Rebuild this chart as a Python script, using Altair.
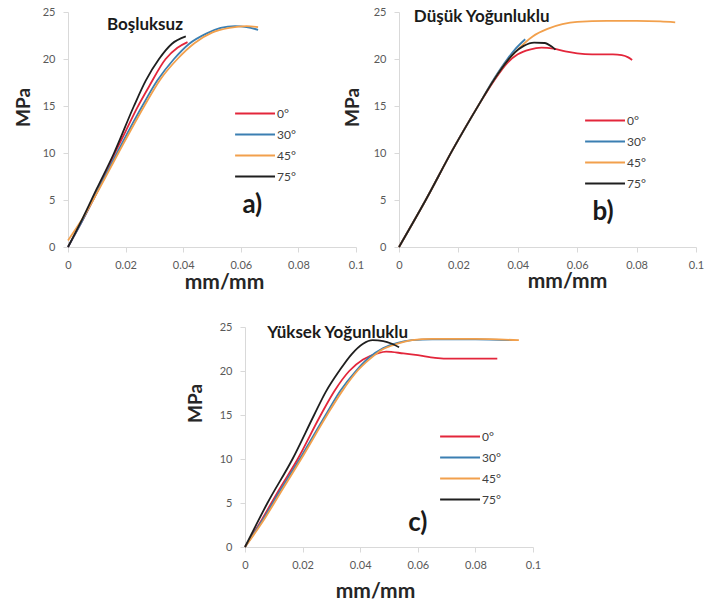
import altair as alt
import pandas as pd

ANGLES = ["0°", "30°", "45°", "75°"]
COLORS = ["#e3263b", "#3b7fb2", "#f2a04c", "#1f1f1f"]
X_TICKS = [0, 0.02, 0.04, 0.06, 0.08, 0.1]
Y_TICKS = [0, 5, 10, 15, 20, 25]

# ---------- Panel a) Boşluksuz ----------
a0_x = [0, 0.005, 0.01, 0.016, 0.020, 0.024, 0.028, 0.0339, 0.038, 0.0415]
a0_y = [0, 2.8, 5.8, 9.8, 12.3, 14.8, 17.0, 20.0, 21.2, 21.8]
a30_x = [0, 0.005, 0.01, 0.017, 0.0258, 0.031, 0.0368, 0.042, 0.048, 0.053, 0.058, 0.062, 0.066]
a30_y = [0, 2.8, 5.8, 10.0, 15.0, 17.7, 20.0, 21.6, 22.7, 23.3, 23.5, 23.4, 23.1]
a45_x = [0, 0.005, 0.01, 0.0175, 0.0265, 0.032, 0.038, 0.044, 0.050, 0.056, 0.062, 0.066]
a45_y = [0.7, 3.0, 5.7, 10.0, 15.0, 17.8, 20.0, 21.7, 22.8, 23.3, 23.5, 23.4]
a75_x = [0, 0.005, 0.01, 0.016, 0.0229, 0.027, 0.0316, 0.036, 0.0409]
a75_y = [0, 3.0, 6.2, 10.0, 15.0, 17.7, 20.0, 21.6, 22.4]

# ---------- Panel b) Düşük Yoğunluklu ----------
b0_x = [0, 0.009, 0.018, 0.027, 0.032, 0.0365, 0.040, 0.044, 0.048, 0.052, 0.056, 0.060, 0.065, 0.072, 0.075, 0.077, 0.0785]
b0_y = [0, 5.0, 10.3, 15.2, 17.7, 19.6, 20.5, 21.0, 21.2, 21.1, 20.8, 20.6, 20.5, 20.5, 20.4, 20.2, 19.9]
b30_x = [0, 0.009, 0.018, 0.027, 0.032, 0.0365, 0.039, 0.0425]
b30_y = [0, 5.0, 10.3, 15.2, 17.9, 20.0, 21.0, 22.1]
b45_x = [0, 0.009, 0.018, 0.027, 0.032, 0.0365, 0.040, 0.045, 0.050, 0.055, 0.060, 0.070, 0.080, 0.088, 0.093]
b45_y = [0, 5.0, 10.3, 15.2, 17.8, 19.8, 21.0, 22.4, 23.2, 23.7, 23.95, 24.05, 24.05, 24.0, 23.9]
b75_x = [0, 0.009, 0.018, 0.027, 0.032, 0.0365, 0.039, 0.042, 0.0455, 0.049, 0.0515, 0.0527]
b75_y = [0, 5.0, 10.3, 15.2, 17.8, 19.8, 20.7, 21.4, 21.75, 21.7, 21.3, 21.0]

# ---------- Panel c) Yüksek Yoğunluklu ----------
c0_x = [0, 0.006, 0.012, 0.0183, 0.0263, 0.031, 0.0362, 0.041, 0.046, 0.049, 0.055, 0.060, 0.066, 0.072, 0.080, 0.0876]
c0_y = [0, 3.2, 6.6, 10.0, 15.0, 17.7, 20.0, 21.3, 22.0, 22.2, 22.0, 21.8, 21.5, 21.4, 21.4, 21.4]
c30_x = [0, 0.006, 0.012, 0.019, 0.028, 0.033, 0.0385, 0.043, 0.048, 0.053, 0.058, 0.065, 0.080, 0.093]
c30_y = [0, 3.0, 6.3, 10.0, 15.0, 17.7, 20.0, 21.5, 22.6, 23.2, 23.5, 23.6, 23.6, 23.5]
c45_x = [0, 0.006, 0.012, 0.0195, 0.0285, 0.0335, 0.039, 0.0435, 0.048, 0.053, 0.058, 0.065, 0.080, 0.0951]
c45_y = [0, 2.8, 6.0, 10.0, 15.0, 17.6, 20.0, 21.4, 22.5, 23.1, 23.5, 23.65, 23.65, 23.5]
c75_x = [0, 0.004, 0.0078, 0.0165, 0.024, 0.028, 0.0327, 0.037, 0.041, 0.0443, 0.048, 0.051, 0.0535]
c75_y = [0, 2.6, 5.0, 10.0, 15.0, 17.6, 20.0, 21.9, 23.1, 23.5, 23.4, 23.1, 22.7]

# ---------- annotations (data coordinates) ----------
a_notes_text = ["Boşluksuz", "a)"]
a_notes_x = [0.0135, 0.064]
a_notes_y = [23.6, 4.5]
b_notes_text = ["Düşük Yoğunluklu", "b)"]
b_notes_x = [0.005, 0.0687]
b_notes_y = [24.5, 3.7]
c_notes_text = ["Yüksek Yoğunluklu", "c)"]
c_notes_x = [0.0077, 0.060]
c_notes_y = [24.3, 2.7]

FONT = "Lato"


def series_df(xs_list, ys_list):
    rows = []
    for ang, xs, ys in zip(ANGLES, xs_list, ys_list):
        for i, (x, y) in enumerate(zip(xs, ys)):
            rows.append({"x": x, "y": y, "angle": ang, "i": i})
    return pd.DataFrame(rows)


def panel(df, nt, nx, ny, w, h, leg_x, leg_y, xtitle_pad, xtitle_x, ytitle_pad, ytitle_y):
    xs = alt.Scale(domain=[0, 0.1], nice=False)
    ys = alt.Scale(domain=[0, 25], nice=False)
    lines = alt.Chart(df).mark_line(strokeWidth=1.8, interpolate="monotone").encode(
        x=alt.X("x:Q", scale=xs, axis=alt.Axis(values=X_TICKS, format="~g", title="mm/mm",
                                               labelFlush=False, titleFontSize=21,
                                               titlePadding=xtitle_pad, titleX=xtitle_x)),
        y=alt.Y("y:Q", scale=ys, axis=alt.Axis(values=Y_TICKS, title="MPa", labelFlush=False,
                                               titleFontSize=19,
                                               titlePadding=ytitle_pad, titleY=ytitle_y)),
        color=alt.Color("angle:N", scale=alt.Scale(domain=ANGLES, range=COLORS),
                        legend=alt.Legend(title=None, orient="none", legendX=leg_x, legendY=leg_y,
                                          symbolType="M-3.2,0H1", symbolSize=361,
                                          symbolStrokeWidth=1.8, labelFontSize=12,
                                          labelColor="#404040", labelFont=FONT, labelOffset=1,
                                          rowPadding=4, padding=0)),
        order=alt.Order("i:Q"),
    )
    notes = pd.DataFrame({"x": nx, "y": ny, "t": nt, "k": ["title", "letter"]})
    title_txt = alt.Chart(notes).transform_filter(alt.datum.k == "title").mark_text(
        align="left", baseline="middle", fontSize=17, fontWeight="bold", font=FONT, color="#1a1a1a"
    ).encode(x=alt.X("x:Q", scale=xs), y=alt.Y("y:Q", scale=ys), text="t:N")
    letter_txt = alt.Chart(notes).transform_filter(alt.datum.k == "letter").mark_text(
        align="center", baseline="middle", fontSize=26, fontWeight="bold", font=FONT, color="#1a1a1a"
    ).encode(x=alt.X("x:Q", scale=xs), y=alt.Y("y:Q", scale=ys), text="t:N")
    return alt.layer(lines, title_txt, letter_txt).properties(width=w, height=h)


pa = panel(series_df([a0_x, a30_x, a45_x, a75_x], [a0_y, a30_y, a45_y, a75_y]),
           a_notes_text, a_notes_x, a_notes_y, 288, 235, 187, 91, 1, 156, 9, 95)
pb = panel(series_df([b0_x, b30_x, b45_x, b75_x], [b0_y, b30_y, b45_y, b75_y]),
           b_notes_text, b_notes_x, b_notes_y, 297, 235, 206, 98, 0, 168, 11, 95)
pc = panel(series_df([c0_x, c30_x, c45_x, c75_x], [c0_y, c30_y, c45_y, c75_y]),
           c_notes_text, c_notes_x, c_notes_y, 288, 220, 215, 99, 10, 130, 14, 76)

spacer = alt.Chart(pd.DataFrame({"v": [0]})).mark_point(size=0, opacity=0).encode(
    x=alt.value(0), y=alt.value(0)).properties(width=177, height=220)

top = alt.hconcat(pa, pb, spacing=43, bounds="flush").resolve_legend(color="independent")
bottom = alt.hconcat(spacer, pc, spacing=0, bounds="flush").resolve_legend(color="independent")

chart = alt.vconcat(top, bottom, spacing=29, bounds="full").resolve_legend(
    color="independent"
).properties(
    padding={"left": 14, "top": 6, "right": 0, "bottom": 0},
    background="white",
).configure_view(stroke=None).configure_axis(
    grid=False, domainColor="#d9d9d9", tickColor="#d9d9d9", tickSize=5,
    labelColor="#595959", labelFont=FONT, labelFontSize=11, labelPadding=7,
    titleFont=FONT, titleFontWeight="bold", titleColor="#262626",
).configure_axisY(labelPadding=8)

chart.save("out.html", embed_options={"renderer": "svg", "actions": False})
